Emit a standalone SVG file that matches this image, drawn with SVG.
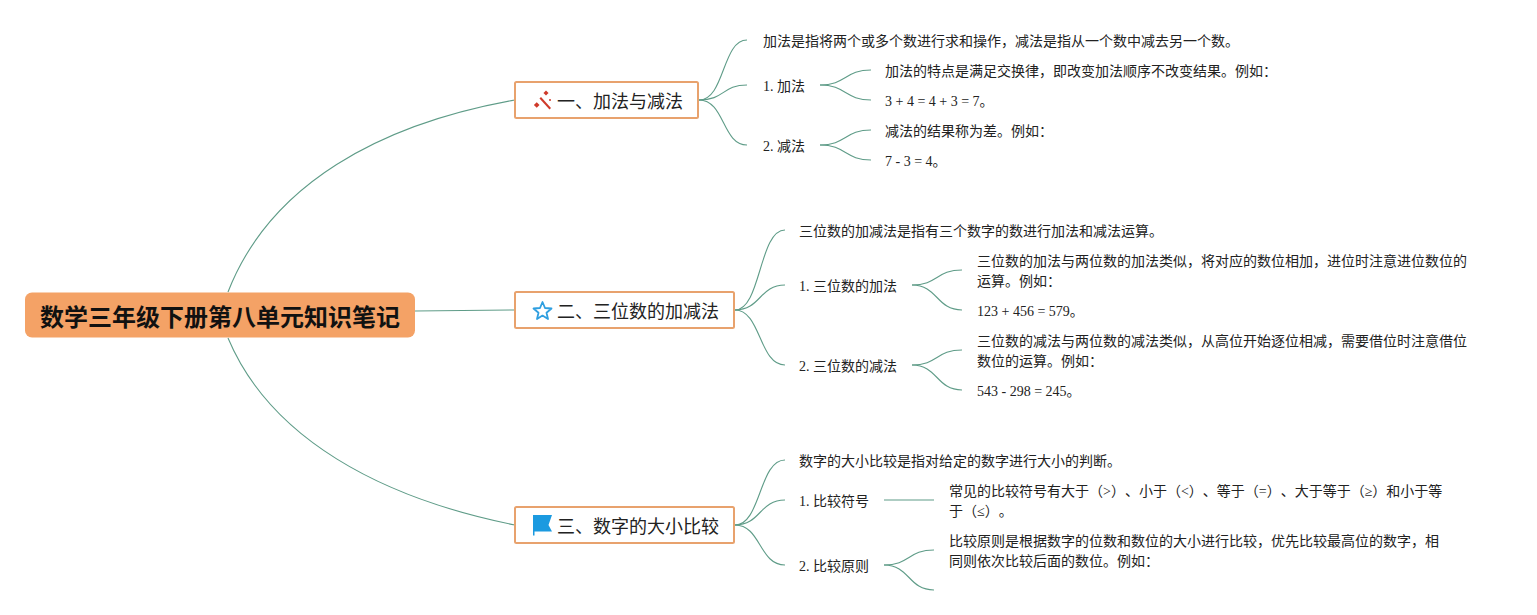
<svg xmlns="http://www.w3.org/2000/svg" width="1537" height="615" viewBox="0 0 1537 615">
<style>
text{font-family:"Liberation Serif","Noto Sans CJK SC",serif;fill:#222;text-spacing-trim:space-all}
.t{font-size:14px}
.b{font-size:18px}
.r{font-size:24px;font-weight:bold;fill:#111}
.box{fill:#fff;stroke:#e8a26d;stroke-width:2}
#connectors path{fill:none;stroke:#5f9c88;stroke-width:1.100}
</style>
<rect width="1537" height="615" fill="#fff"/>
<g id="connectors">
<path d="M228 292C270 184 380 124 515 100"/>
<path d="M415 311L515 310"/>
<path d="M228 338C270 438 380 498 515 525"/>
<path d="M699 100C725 100 722 40 747 40"/>
<path d="M699 100C725 100 722 85 747 85"/>
<path d="M699 100C725 100 722 145 747 145"/>
<path d="M820 85C846 85 845 70 871 70"/>
<path d="M820 85C846 85 845 100 871 100"/>
<path d="M820 145C846 145 845 130 871 130"/>
<path d="M820 145C846 145 845 160 871 160"/>
<path d="M735 310C761 310 759 230 785 230"/>
<path d="M735 310C761 310 759 285 785 285"/>
<path d="M735 310C761 310 759 365 785 365"/>
<path d="M912 285C938 285 936 270 962 270"/>
<path d="M912 285C938 285 936 310 962 310"/>
<path d="M912 365C938 365 936 350 962 350"/>
<path d="M912 365C938 365 936 390 962 390"/>
<path d="M735 525C761 525 759 460 785 460"/>
<path d="M735 525C761 525 759 500 785 500"/>
<path d="M735 525C761 525 759 565 785 565"/>
<path d="M884 500L934 500"/>
<path d="M884 565C910 565 908 550 934 550"/>
<path d="M884 565C910 565 908 590 934 590"/>
</g>
<g id="root">
<rect x="25" y="292.500" width="390" height="45" rx="7" fill="#f4a266"/>
<text class="r" x="40" y="326">数学三年级下册第八单元知识笔记</text>
</g>
<g id="n1">
<rect class="box" x="515" y="82" width="183" height="36" rx="1.500"/>
<g fill="#cf3a2a">
<path d="M539.500 98.500L541 97L551 108L549.500 109.500Z"/>
<rect x="544.200" y="91.200" width="3.600" height="3.600" transform="rotate(45 546 93)"/>
<rect x="534.700" y="103" width="4" height="4" transform="rotate(45 536.700 105)"/>
<circle cx="550" cy="100" r="1"/>
</g>
<text class="b" x="557" y="108">一、加法与减法</text>
</g>
<g id="n1a"><text class="t" x="763" y="46">加法是指将两个或多个数进行求和操作，减法是指从一个数中减去另一个数。</text></g>
<g id="n1b"><text class="t" x="763" y="91">1. 加法</text></g>
<g id="n1b1"><text class="t" x="885" y="76">加法的特点是满足交换律，即改变加法顺序不改变结果。例如：</text></g>
<g id="n1b2"><text class="t" x="885" y="106">3 + 4 = 4 + 3 = 7。</text></g>
<g id="n1c"><text class="t" x="763" y="151">2. 减法</text></g>
<g id="n1c1"><text class="t" x="885" y="136">减法的结果称为差。例如：</text></g>
<g id="n1c2"><text class="t" x="885" y="166">7 - 3 = 4。</text></g>
<g id="n2">
<rect class="box" x="515" y="292" width="219" height="36" rx="1.500"/>
<path d="M542.500 302L545 308L551.500 308.500L546.500 312.700L548 319L542.500 315.600L537 319L538.500 312.700L533.500 308.500L540 308Z" fill="none" stroke="#2f9fe0" stroke-width="1.800" stroke-linejoin="round"/>
<text class="b" x="557" y="318">二、三位数的加减法</text>
</g>
<g id="n2a"><text class="t" x="799" y="236">三位数的加减法是指有三个数字的数进行加法和减法运算。</text></g>
<g id="n2b"><text class="t" x="799" y="291">1. 三位数的加法</text></g>
<g id="n2b1"><text class="t" x="977" y="266">三位数的加法与两位数的加法类似，将对应的数位相加，进位时注意进位数位的</text><text class="t" x="977" y="286">运算。例如：</text></g>
<g id="n2b2"><text class="t" x="977" y="316">123 + 456 = 579。</text></g>
<g id="n2c"><text class="t" x="799" y="371">2. 三位数的减法</text></g>
<g id="n2c1"><text class="t" x="977" y="346">三位数的减法与两位数的减法类似，从高位开始逐位相减，需要借位时注意借位</text><text class="t" x="977" y="366">数位的运算。例如：</text></g>
<g id="n2c2"><text class="t" x="977" y="396">543 - 298 = 245。</text></g>
<g id="n3">
<rect class="box" x="515" y="507" width="219" height="36" rx="1.500"/>
<path d="M533 515H552L548.500 525L552 531.500H534.500V535.500H533Z" fill="#1b9ae0"/>
<text class="b" x="557" y="533">三、数字的大小比较</text>
</g>
<g id="n3a"><text class="t" x="799" y="466">数字的大小比较是指对给定的数字进行大小的判断。</text></g>
<g id="n3b"><text class="t" x="799" y="506">1. 比较符号</text></g>
<g id="n3b1"><text class="t" x="949" y="496">常见的比较符号有大于（&gt;）、小于（&lt;）、等于（=）、大于等于（≥）和小于等</text><text class="t" x="949" y="516">于（≤）。</text></g>
<g id="n3c"><text class="t" x="799" y="571">2. 比较原则</text></g>
<g id="n3c1"><text class="t" x="949" y="546">比较原则是根据数字的位数和数位的大小进行比较，优先比较最高位的数字，相</text><text class="t" x="949" y="566">同则依次比较后面的数位。例如：</text></g>
</svg>
